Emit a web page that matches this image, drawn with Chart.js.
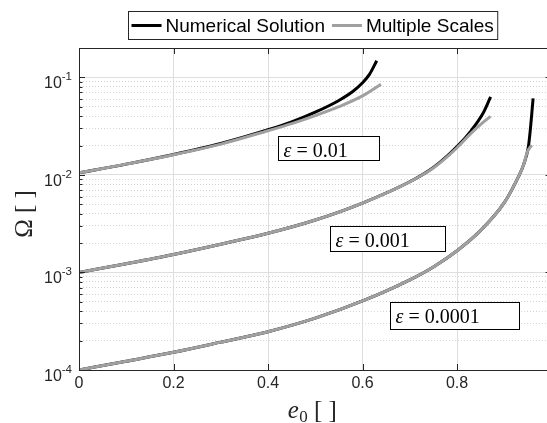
<!DOCTYPE html>
<html>
<head>
<meta charset="utf-8">
<script src="https://cdn.jsdelivr.net/npm/chart.js@4"></script>
<style>
  html, body { margin: 0; padding: 0; background: #fff; overflow: hidden; }
  .wrap { width: 560px; height: 423px; position: relative; }
</style>
</head>
<body>
<div class="wrap"><canvas id="chart"></canvas></div>
<script>
// values: e0 and Omega for every curve
const eNum01 = [0, 0.1, 0.2, 0.3, 0.4, 0.45, 0.5, 0.55, 0.58, 0.6, 0.615, 0.63]
const omegaNum01 = [0.0105, 0.0129, 0.0162, 0.0210, 0.0290, 0.0350, 0.0440, 0.0580, 0.072, 0.088, 0.108, 0.148]
const eMs01 = [0, 0.1, 0.2, 0.3, 0.4, 0.45, 0.5, 0.55, 0.6, 0.639]
const omegaMs01 = [0.0105, 0.0129, 0.0161, 0.0207, 0.0284, 0.0335, 0.0405, 0.0500, 0.0645, 0.0850]

const eNum001 = [0, 0.1, 0.2, 0.3, 0.4, 0.5, 0.6, 0.7, 0.75, 0.8, 0.83, 0.855, 0.871]
const omegaNum001 = [0.00100, 0.00123, 0.00153, 0.00195, 0.00252, 0.00345, 0.00515, 0.0085, 0.0119, 0.0195, 0.0285, 0.0428, 0.063]
const eMs001 = [0, 0.1, 0.2, 0.3, 0.4, 0.5, 0.6, 0.7, 0.75, 0.8, 0.83, 0.855, 0.871]
const omegaMs001 = [0.00100, 0.00123, 0.00153, 0.00195, 0.00252, 0.00345, 0.00515, 0.0085, 0.0118, 0.0190, 0.0268, 0.0345, 0.0398]

const eNum0001 = [0, 0.1, 0.2, 0.3, 0.4, 0.5, 0.6, 0.7, 0.75, 0.8, 0.85, 0.9, 0.93, 0.941, 0.951, 0.955, 0.961]
const omegaNum0001 = [1.0e-4, 1.23e-4, 1.52e-4, 1.93e-4, 2.47e-4, 3.4e-4, 5.1e-4, 8.4e-4, 1.14e-3, 1.67e-3, 2.7e-3, 5.2e-3, 9.6e-3, 0.0128, 0.0195, 0.0288, 0.061]
const eMs0001 = [0, 0.1, 0.2, 0.3, 0.4, 0.5, 0.6, 0.7, 0.75, 0.8, 0.85, 0.9, 0.93, 0.941, 0.949, 0.958]
const omegaMs0001 = [1.0e-4, 1.23e-4, 1.52e-4, 1.93e-4, 2.47e-4, 3.4e-4, 5.1e-4, 8.4e-4, 1.14e-3, 1.67e-3, 2.7e-3, 5.2e-3, 9.6e-3, 0.0128, 0.0173, 0.0202]

const seriesNames = ['Numerical Solution', 'Multiple Scales']
const epsilonLabels = ['0.01', '0.001', '0.0001']

const xTickValues = [0, 0.2, 0.4, 0.6, 0.8, 1]
const xTickLabels = ['0', '0.2', '0.4', '0.6', '0.8', '1']
const yTickValues = [1e-4, 1e-3, 1e-2, 1e-1]
const yTickExponents = ['-4', '-3', '-2', '-1']

const BLACK = '#000000'
const GRAY = '#a0a0a0'
const AXIS = '#262626'

function toPoints(xs, ys) {
    return xs.map((x, i) => ({ x: x, y: ys[i] }))
}

function makeLine(label, xs, ys, color, width, order) {
    return {
        label: label,
        data: toPoints(xs, ys),
        borderColor: color,
        backgroundColor: color,
        borderWidth: width,
        pointRadius: 0,
        fill: false,
        cubicInterpolationMode: 'monotone',
        order: order
    }
}

function isDecade(v) {
    const l = Math.log10(v)
    return Math.abs(l - Math.round(l)) < 1e-6
}

// frame, inner ticks, y labels, legend, epsilon boxes and axis titles
const decorPlugin = {
    id: 'decor',
    afterDraw(chart, args, opts) {
        const ctx = chart.ctx
        const area = chart.chartArea
        const xs = chart.scales.x
        const ys = chart.scales.y
        ctx.save()

        ctx.strokeStyle = AXIS
        ctx.lineWidth = 1
        ctx.beginPath()
        ys.ticks.forEach(t => {
            const py = Math.round(ys.getPixelForValue(t.value)) + 0.5
            const len = isDecade(t.value) ? 6 : 3.5
            ctx.moveTo(area.left, py); ctx.lineTo(area.left + len, py)
            ctx.moveTo(area.right, py); ctx.lineTo(area.right - len, py)
        })
        xs.ticks.forEach(t => {
            const px = Math.round(xs.getPixelForValue(t.value)) + 0.5
            ctx.moveTo(px, area.bottom); ctx.lineTo(px, area.bottom - 6)
            ctx.moveTo(px, area.top); ctx.lineTo(px, area.top + 6)
        })
        ctx.stroke()
        ctx.strokeRect(Math.round(area.left) + 0.5, Math.round(area.top) + 0.5,
            Math.round(area.right - area.left), Math.round(area.bottom - area.top))

        // y tick labels, 10 with a raised exponent
        ctx.fillStyle = AXIS
        ctx.textAlign = 'left'
        ctx.textBaseline = 'alphabetic'
        yTickValues.forEach((v, i) => {
            const py = ys.getPixelForValue(v)
            ctx.font = '11.5px "Liberation Sans"'
            const we = ctx.measureText(yTickExponents[i]).width
            ctx.font = '16px "Liberation Sans"'
            const wb = ctx.measureText('10').width
            const right = area.left - 7
            ctx.fillText('10', right - we - wb, py + 11)
            ctx.font = '11.5px "Liberation Sans"'
            ctx.fillText(yTickExponents[i], right - we, py + 3)
        })

        // epsilon text boxes
        opts.boxes.forEach((b, i) => {
            const left = Math.round(xs.getPixelForValue(b.e)) + 0.5
            const top = Math.round(ys.getPixelForValue(b.omega)) + 0.5
            ctx.fillStyle = '#ffffff'
            ctx.fillRect(left, top, b.w, b.h)
            ctx.strokeStyle = '#000000'
            ctx.strokeRect(left, top, b.w, b.h)
            ctx.fillStyle = '#000000'
            ctx.font = 'italic 20px "Liberation Serif"'
            ctx.fillText('ε', left + 5, top + 20)
            const w = ctx.measureText('ε').width
            ctx.font = '20px "Liberation Serif"'
            ctx.fillText(' = ' + epsilonLabels[i], left + 5 + w, top + 20)
        })

        // legend
        ctx.font = '19px "Liberation Sans"'
        const w1 = ctx.measureText(seriesNames[0]).width
        const w2 = ctx.measureText(seriesNames[1]).width
        const lineLen = 30
        const total = 3 + lineLen + 4 + w1 + 7 + lineLen + 4 + w2 + 4
        const lx = Math.round(313 - total / 2) + 0.5
        const ly = 11.5
        const lh = 28
        ctx.fillStyle = '#ffffff'
        ctx.fillRect(lx, ly, total, lh)
        ctx.strokeStyle = AXIS
        ctx.lineWidth = 1
        ctx.strokeRect(lx, ly, total, lh)
        const midY = ly + lh / 2
        let cx = lx + 3
        const sets = chart.data.datasets
        for (let k = 0; k < 2; k++) {
            ctx.strokeStyle = sets[k].borderColor
            ctx.lineWidth = 3
            ctx.beginPath()
            ctx.moveTo(cx, midY); ctx.lineTo(cx + lineLen, midY)
            ctx.stroke()
            cx += lineLen + 4
            ctx.fillStyle = '#000000'
            ctx.textBaseline = 'middle'
            ctx.fillText(sets[k].label, cx, midY + 1)
            cx += (k === 0 ? w1 : w2) + 7
        }

        // axis titles
        ctx.fillStyle = AXIS
        ctx.textBaseline = 'alphabetic'
        ctx.save()
        ctx.translate(32, 214)
        ctx.rotate(-Math.PI / 2)
        ctx.font = '25px "Liberation Serif"'
        ctx.textAlign = 'center'
        ctx.fillText('Ω [ ]', 0, 0)
        ctx.restore()

        const xc = 312
        ctx.font = 'italic 25px "Liberation Serif"'
        const we = ctx.measureText('e').width
        ctx.font = '17px "Liberation Serif"'
        const w0 = ctx.measureText('0').width
        ctx.font = '25px "Liberation Serif"'
        const wb = ctx.measureText(' [ ]').width
        let tx = xc - (we + w0 + wb) / 2
        ctx.textAlign = 'left'
        ctx.font = 'italic 25px "Liberation Serif"'
        ctx.fillText('e', tx, 418)
        tx += we + 0.5
        ctx.font = '17px "Liberation Serif"'
        ctx.fillText('0', tx, 422)
        tx += w0
        ctx.font = '25px "Liberation Serif"'
        ctx.fillText(' [ ]', tx, 418)

        ctx.restore()
    }
}

const chartEl = document.getElementById('chart')
const chart = new Chart(chartEl, {
    type: 'line',
    data: {
        datasets: [
            makeLine(seriesNames[0], eNum01, omegaNum01, BLACK, 3, 2),
            makeLine(seriesNames[1], eMs01, omegaMs01, GRAY, 3, 1),
            makeLine(seriesNames[0], eNum001, omegaNum001, BLACK, 3, 2),
            makeLine(seriesNames[1], eMs001, omegaMs001, GRAY, 3, 1),
            makeLine(seriesNames[0], eNum0001, omegaNum0001, BLACK, 3, 2),
            makeLine(seriesNames[1], eMs0001, omegaMs0001, GRAY, 3, 1)
        ]
    },
    options: {
        responsive: true,
        maintainAspectRatio: false,
        animation: false,
        events: [],
        layout: { padding: { top: 48, right: 0, left: 0, bottom: 0 } },
        plugins: {
            legend: { display: false },
            tooltip: { enabled: false },
            decor: {
                boxes: [
                    { e: 0.422, omega: 0.02504, w: 101, h: 24 },
                    { e: 0.532, omega: 0.002995, w: 115, h: 25 },
                    { e: 0.6578, omega: 0.000495, w: 129, h: 27 }
                ]
            }
        },
        scales: {
            x: {
                type: 'linear',
                min: 0,
                max: 1,
                afterBuildTicks: axis => {
                    axis.ticks = xTickValues.map(v => ({ value: v }))
                },
                afterFit: axis => { axis.height = 53 },
                ticks: {
                    autoSkip: false,
                    maxRotation: 0,
                    padding: 4,
                    color: AXIS,
                    font: { family: 'Liberation Sans', size: 16 },
                    callback: (value) => {
                        const i = xTickValues.findIndex(v => Math.abs(v - value) < 1e-9)
                        return i >= 0 ? xTickLabels[i] : ''
                    }
                },
                grid: { color: '#dedede', lineWidth: 1, drawTicks: false },
                border: { color: AXIS, width: 1 }
            },
            y: {
                type: 'logarithmic',
                min: 1e-4,
                max: 0.2,
                afterBuildTicks: axis => {
                    const ticks = []
                    for (let p = -4; p <= -1; p++) {
                        for (let m = 1; m <= 9; m++) {
                            const v = m * Math.pow(10, p)
                            if (v <= 0.2 + 1e-12) ticks.push({ value: v, major: m === 1 })
                        }
                    }
                    axis.ticks = ticks
                },
                afterFit: axis => { axis.width = 79 },
                ticks: { display: false, autoSkip: false },
                grid: {
                    drawTicks: false,
                    lineWidth: 1,
                    color: ctx => (ctx.tick && !isDecade(ctx.tick.value)) ? '#d2d2d2' : '#dedede'
                },
                border: {
                    color: AXIS,
                    width: 1,
                    dash: ctx => (ctx.tick && !isDecade(ctx.tick.value)) ? [1, 2] : []
                }
            }
        }
    },
    plugins: [decorPlugin]
})
</script>
</body>
</html>
